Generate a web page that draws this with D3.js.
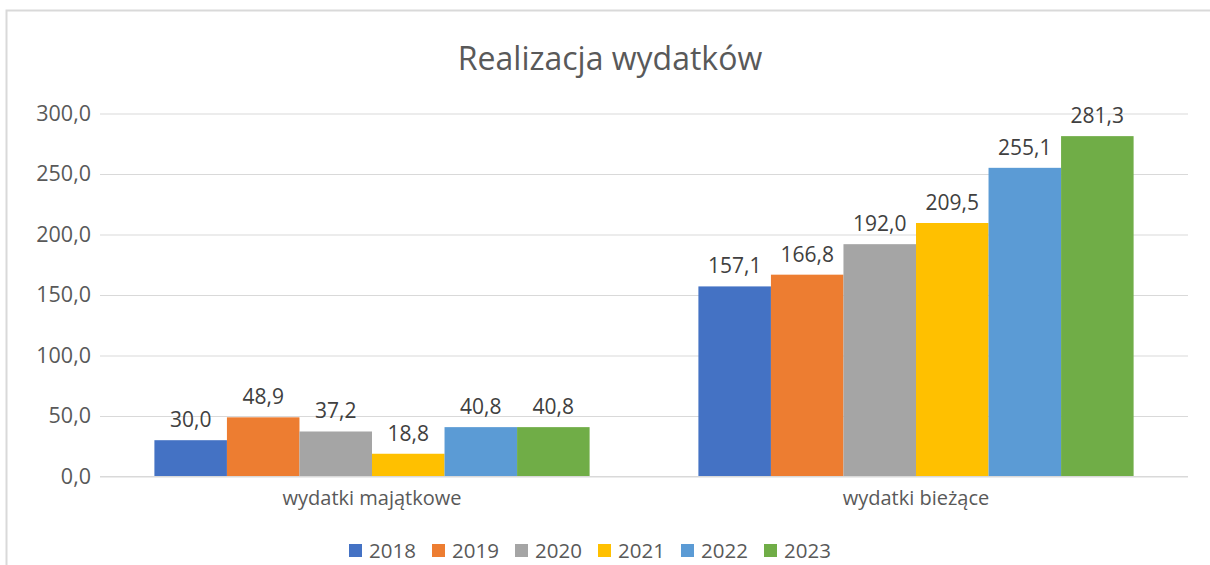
<!DOCTYPE html>
<html>
<head>
<meta charset="utf-8">
<script src="https://cdn.jsdelivr.net/npm/d3@7"></script>
<style>
  body { margin: 0; background: #fff; }
  svg { display: block; font-family: "Open Sans", sans-serif; }
</style>
</head>
<body>
<svg width="1210" height="565"></svg>
<script>
  const categories = ['wydatki majątkowe', 'wydatki bieżące'];
  const years = ['2018', '2019', '2020', '2021', '2022', '2023'];
  const majatkowe = [30.0, 48.9, 37.2, 18.8, 40.8, 40.8];
  const biezace = [157.1, 166.8, 192.0, 209.5, 255.1, 281.3];
  const yTicks = [0, 50, 100, 150, 200, 250, 300];
  const colors = ['#4472C4', '#ED7D31', '#A5A5A5', '#FFC000', '#5B9BD5', '#70AD47'];

  const seriesByCategory = [majatkowe, biezace];

  const svg = d3.select('svg');
  const fmt = v => d3.format('.1f')(v).replace('.', ',');

  // chart border (light frame, open on the right)
  svg.append('path')
    .attr('d', 'M6.5,566 V10.5 H1210')
    .attr('fill', 'none')
    .attr('stroke', '#d9d9d9')
    .attr('stroke-width', 2);

  const plotLeft = 100, plotRight = 1188, plotTop = 113.5, plotBottom = 476.5;

  const x = d3.scaleBand().domain(categories).range([plotLeft, plotRight])
    .paddingInner(0.2).paddingOuter(0.1);
  const xYear = d3.scaleBand().domain(years).range([0, x.bandwidth()]);
  const y = d3.scaleLinear().domain([0, 300]).range([plotBottom, plotTop]);

  // title
  svg.append('text')
    .attr('x', 610).attr('y', 70)
    .attr('text-anchor', 'middle')
    .attr('font-size', 32)
    .attr('fill', '#595959')
    .text('Realizacja wydatków');

  // gridlines + y labels
  const yAxis = d3.axisLeft(y).tickValues(yTicks).tickSize(-(plotRight - plotLeft)).tickFormat(fmt).tickPadding(9);
  const yG = svg.append('g').attr('transform', `translate(${plotLeft},0)`).call(yAxis);
  yG.select('.domain').remove();
  yG.selectAll('.tick line').attr('stroke', '#d9d9d9');
  yG.selectAll('.tick text').attr('font-size', 21.5).attr('fill', '#595959')
    .attr('font-family', '"Open Sans", sans-serif');

  // bars
  const groups = svg.append('g').selectAll('g').data(categories).join('g')
    .attr('transform', d => `translate(${x(d)},0)`);

  groups.selectAll('rect')
    .data((d, i) => seriesByCategory[i].map((v, j) => ({ year: years[j], v })))
    .join('rect')
    .attr('x', d => xYear(d.year))
    .attr('width', xYear.bandwidth())
    .attr('y', d => y(d.v))
    .attr('height', d => y(0) - y(d.v))
    .attr('fill', (d, j) => colors[j]);

  groups.selectAll('text.lbl')
    .data((d, i) => seriesByCategory[i].map((v, j) => ({ year: years[j], v })))
    .join('text')
    .attr('class', 'lbl')
    .attr('x', d => xYear(d.year) + xYear.bandwidth() / 2)
    .attr('y', d => y(d.v) - 13)
    .attr('text-anchor', 'middle')
    .attr('font-size', 21)
    .attr('fill', '#404040')
    .text(d => fmt(d.v));

  // x axis line and category labels
  svg.append('line')
    .attr('x1', plotLeft).attr('x2', plotRight)
    .attr('y1', plotBottom).attr('y2', plotBottom)
    .attr('stroke', '#d9d9d9');

  svg.append('g').selectAll('text').data(categories).join('text')
    .attr('x', d => x(d) + x.bandwidth() / 2)
    .attr('y', 505)
    .attr('text-anchor', 'middle')
    .attr('font-size', 20)
    .attr('fill', '#595959')
    .text(d => d);

  // legend
  const legend = svg.append('g').attr('transform', 'translate(349,544)');
  const items = legend.selectAll('g').data(years).join('g')
    .attr('transform', (d, i) => `translate(${i * 83},0)`);
  items.append('rect')
    .attr('width', 13).attr('height', 13)
    .attr('fill', (d, i) => colors[i]);
  items.append('text')
    .attr('x', 20).attr('y', 14)
    .attr('font-size', 20.5)
    .attr('fill', '#595959')
    .text(d => d);
</script>
</body>
</html>
